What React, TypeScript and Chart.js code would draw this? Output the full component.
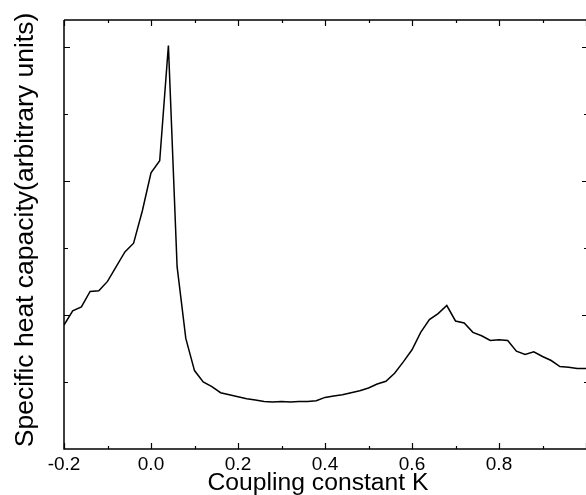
import React, { useEffect, useRef } from 'react';
import { Chart, registerables } from 'chart.js';

Chart.register(...registerables);

const kValues = [
  -0.2, -0.18, -0.16, -0.14, -0.12, -0.1, -0.08, -0.06, -0.04, -0.02,
  0.0, 0.02, 0.04, 0.06, 0.08, 0.1, 0.12, 0.14, 0.16, 0.18,
  0.2, 0.22, 0.24, 0.26, 0.28, 0.3, 0.32, 0.34, 0.36, 0.38,
  0.4, 0.42, 0.44, 0.46, 0.48, 0.5, 0.52, 0.54, 0.56, 0.58,
  0.6, 0.62, 0.64, 0.66, 0.68, 0.7, 0.72, 0.74, 0.76, 0.78,
  0.8, 0.82, 0.84, 0.86, 0.88, 0.9, 0.92, 0.94, 0.96, 0.98, 1.0,
];

const heatValues = [
  1.85, 2.06, 2.12, 2.35, 2.36, 2.5, 2.72, 2.94, 3.07, 3.55,
  4.12, 4.3, 6.02, 2.72, 1.65, 1.17, 1.0, 0.93, 0.84, 0.81,
  0.78, 0.75, 0.73, 0.71, 0.7, 0.71, 0.7, 0.71, 0.71, 0.72,
  0.77, 0.79, 0.81, 0.84, 0.87, 0.91, 0.97, 1.01, 1.13, 1.3,
  1.48, 1.74, 1.93, 2.02, 2.14, 1.91, 1.88, 1.74, 1.69, 1.62,
  1.63, 1.62, 1.46, 1.41, 1.45, 1.38, 1.32, 1.23, 1.22, 1.2, 1.2,
];

const xTickValues = [-0.2, 0.0, 0.2, 0.4, 0.6, 0.8, 1.0];
const xTickLabels = ['-0.2', '0.0', '0.2', '0.4', '0.6', '0.8', ''];
const xMinorTicks = [-0.1, 0.1, 0.3, 0.5, 0.7, 0.9];
const yMajorTicks = [2, 4, 6];
const yMinorTicks = [1, 3, 5];
const xTitle = 'Coupling constant K';
const yTitle = 'Specific heat capacity(arbitrary units)';

const FONT = '"Liberation Sans", Arial, Helvetica, sans-serif';

const framePlugin = {
  id: 'frame',
  afterDatasetsDraw(chart: any) {
    const { ctx, chartArea, scales } = chart;
    const { left, right, top, bottom } = chartArea;
    const x = scales.x;
    const y = scales.y;
    ctx.save();
    ctx.strokeStyle = '#000';
    ctx.lineWidth = 1.5;
    ctx.beginPath();
    ctx.moveTo(left, top);
    ctx.lineTo(left, bottom);
    ctx.lineTo(right, bottom);
    ctx.moveTo(left, top);
    ctx.lineTo(right, top);
    ctx.stroke();

    ctx.lineWidth = 1.2;
    ctx.beginPath();
    xTickValues.forEach((v) => {
      const px = Math.round(x.getPixelForValue(v)) + 0.5;
      ctx.moveTo(px, bottom);
      ctx.lineTo(px, bottom - 6);
      ctx.moveTo(px, top);
      ctx.lineTo(px, top + 6);
    });
    xMinorTicks.forEach((v) => {
      const px = Math.round(x.getPixelForValue(v)) + 0.5;
      ctx.moveTo(px, bottom);
      ctx.lineTo(px, bottom - 3);
      ctx.moveTo(px, top);
      ctx.lineTo(px, top + 3);
    });
    yMajorTicks.forEach((v) => {
      const py = Math.round(y.getPixelForValue(v)) + 0.5;
      ctx.moveTo(left, py);
      ctx.lineTo(left + 6, py);
      ctx.moveTo(right, py);
      ctx.lineTo(right - 4, py);
    });
    yMinorTicks.forEach((v) => {
      const py = Math.round(y.getPixelForValue(v)) + 0.5;
      ctx.moveTo(left, py);
      ctx.lineTo(left + 4, py);
      ctx.moveTo(right, py);
      ctx.lineTo(right - 2, py);
    });
    ctx.stroke();

    // axis titles
    ctx.fillStyle = '#000';
    ctx.textAlign = 'center';
    ctx.textBaseline = 'alphabetic';
    ctx.font = `24.7px ${FONT}`;
    ctx.fillText(xTitle, (left + right) / 2 - 7, 490);

    ctx.save();
    ctx.translate(32.5, (top + bottom) / 2 - 4.5);
    ctx.rotate(-Math.PI / 2);
    ctx.font = `26.5px ${FONT}`;
    ctx.fillText(yTitle, 0, 0);
    ctx.restore();

    ctx.restore();
  },
};

export default function App() {
  const canvasRef = useRef<HTMLCanvasElement | null>(null);

  useEffect(() => {
    const canvas = canvasRef.current;
    if (!canvas) return;
    const chart = new Chart(canvas, {
      type: 'line',
      data: {
        datasets: [
          {
            data: kValues.map((k, i) => ({ x: k, y: heatValues[i] })),
            borderColor: '#000',
            borderWidth: 1.5,
            pointRadius: 0,
            tension: 0,
            fill: false,
          },
        ],
      },
      options: {
        responsive: false,
        animation: false,
        devicePixelRatio: 1,
        layout: { padding: { top: 20, right: 0, left: 0, bottom: 0 } },
        plugins: {
          legend: { display: false },
          tooltip: { enabled: false },
        },
        scales: {
          x: {
            type: 'linear',
            min: -0.2,
            max: 1.0,
            grid: { display: false, drawTicks: false },
            border: { display: false },
            afterBuildTicks: (scale: any) => {
              scale.ticks = xTickValues.map((v) => ({ value: v }));
            },
            afterFit: (scale: any) => {
              scale.height = 46;
              scale.paddingRight = 0;
            },
            ticks: {
              color: '#000',
              padding: 4,
              maxRotation: 0,
              autoSkip: false,
              font: { family: FONT, size: 19 },
              callback: (_v: any, i: number) => xTickLabels[i],
            },
            title: { display: false },
          },
          y: {
            type: 'linear',
            min: 0,
            max: 6.4,
            grid: { display: false, drawTicks: false },
            border: { display: false },
            ticks: { display: false },
            afterFit: (scale: any) => {
              scale.width = 64;
            },
            title: { display: false },
          },
        },
      },
      plugins: [framePlugin],
    });
    return () => chart.destroy();
  }, []);

  return (
    <div style={{ position: 'absolute', left: 0, top: 0, width: 586, height: 495, background: '#fff' }}>
      <canvas ref={canvasRef} width={586} height={495} style={{ display: 'block' }} />
    </div>
  );
}
